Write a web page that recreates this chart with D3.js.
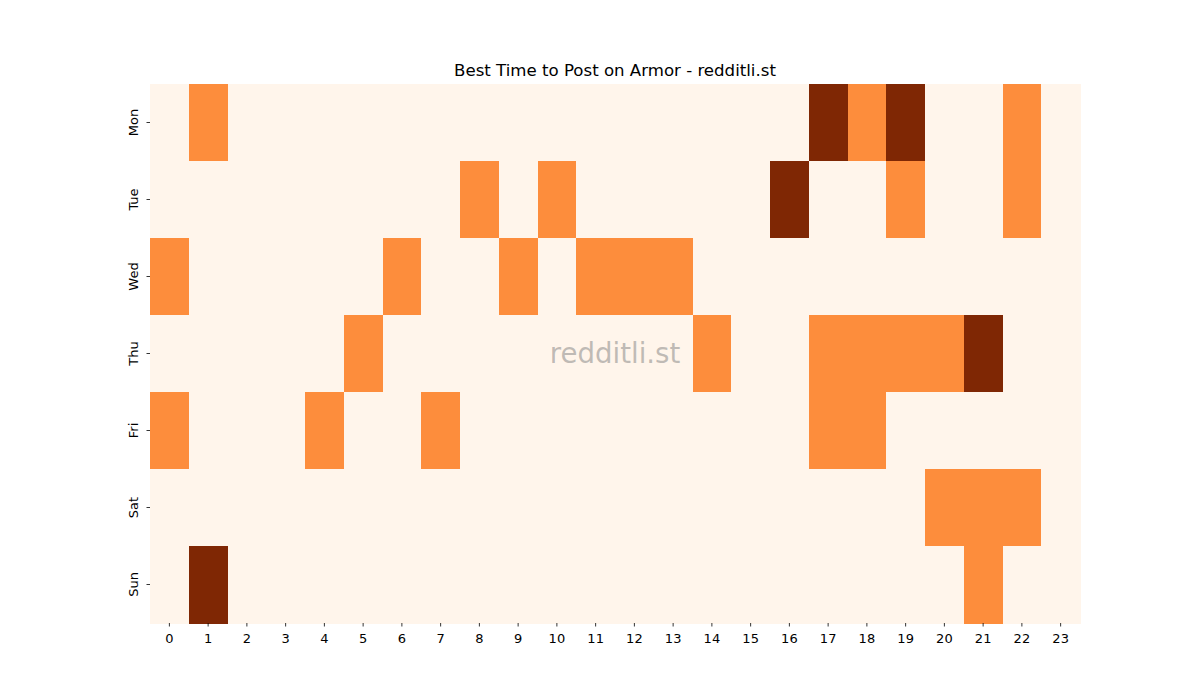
<!DOCTYPE html>
<html>
<head>
<meta charset="utf-8">
<script src="https://cdn.jsdelivr.net/npm/d3@7"></script>
<style>
body { margin: 0; background: #fff; }
text { font-family: "DejaVu Sans", sans-serif; }
</style>
</head>
<body>
<div id="chart"></div>
<script>
// rows of the heatmap, one value per hour (0 = none, 1 = some, 2 = most)
var days = ["Mon", "Tue", "Wed", "Thu", "Fri", "Sat", "Sun"];
var hours = d3.range(24).map(String);
var mon = [0,1,0,0,0,0,0,0,0,0,0,0,0,0,0,0,0,2,1,2,0,0,1,0];
var tue = [0,0,0,0,0,0,0,0,1,0,1,0,0,0,0,0,2,0,0,1,0,0,1,0];
var wed = [1,0,0,0,0,0,1,0,0,1,0,1,1,1,0,0,0,0,0,0,0,0,0,0];
var thu = [0,0,0,0,0,1,0,0,0,0,0,0,0,0,1,0,0,1,1,1,1,2,0,0];
var fri = [1,0,0,0,1,0,0,1,0,0,0,0,0,0,0,0,0,1,1,0,0,0,0,0];
var sat = [0,0,0,0,0,0,0,0,0,0,0,0,0,0,0,0,0,0,0,0,1,1,1,0];
var sun = [0,2,0,0,0,0,0,0,0,0,0,0,0,0,0,0,0,0,0,0,0,1,0,0];
var rows = [mon, tue, wed, thu, fri, sat, sun];

var W = 1200, H = 700;
var margin = {top: 84, right: 120, bottom: 77, left: 150};
var width = W - margin.left - margin.right;
var height = H - margin.top - margin.bottom;

var cells = [];
rows.forEach(function(r, i)
{
	r.forEach(function(v, j)
	{
		cells.push({day: days[i], hour: hours[j], value: v});
	});
});

var xS = d3.scaleBand().domain(hours).range([0, width]);
var yS = d3.scaleBand().domain(days).range([0, height]);
var color = d3.scaleOrdinal().domain([0, 1, 2]).range(["#fff5eb", "#fd8d3c", "#7f2704"]);

var svg = d3.select("#chart").append("svg")
	.attr("width", W)
	.attr("height", H);

var g = svg.append("g")
	.attr("transform", "translate(" + margin.left + "," + margin.top + ")");

g.selectAll(".cell")
	.data(cells)
	.enter().append("rect")
	.attr("class", "cell")
	.attr("x", function(d) { return xS(d.hour); })
	.attr("y", function(d) { return yS(d.day); })
	.attr("width", xS.bandwidth() + 0.5)
	.attr("height", yS.bandwidth() + 0.5)
	.attr("fill", function(d) { return color(d.value); })
	.attr("shape-rendering", "crispEdges");

var xAxis = g.append("g")
	.attr("transform", "translate(0," + height + ")")
	.call(d3.axisBottom(xS).tickSizeInner(3.5).tickSizeOuter(0).tickPadding(5));

var yAxis = g.append("g")
	.call(d3.axisLeft(yS).tickSizeInner(3.5).tickSizeOuter(0).tickPadding(5));

[xAxis, yAxis].forEach(function(a)
{
	a.select(".domain").remove();
	a.selectAll("line").attr("stroke", "#000").attr("stroke-width", 0.8);
	a.selectAll("text").attr("font-size", "13px").attr("fill", "#000")
		.style("font-family", "'DejaVu Sans', sans-serif");
});

xAxis.selectAll("text").attr("dy", "0.9em");

yAxis.selectAll("text")
	.attr("transform", "rotate(-90)")
	.attr("x", 0)
	.attr("y", -12)
	.attr("dy", 0)
	.style("text-anchor", "middle");

// title
svg.append("text")
	.attr("x", margin.left + width / 2)
	.attr("y", 76)
	.attr("text-anchor", "middle")
	.attr("font-size", "16.6px")
	.attr("fill", "#000")
	.text("Best Time to Post on Armor - redditli.st");

// watermark
g.append("text")
	.attr("x", width / 2)
	.attr("y", height / 2)
	.attr("dy", "0.35em")
	.attr("text-anchor", "middle")
	.attr("font-size", "27.6px")
	.attr("fill", "#808080")
	.attr("fill-opacity", 0.5)
	.text("redditli.st");
</script>
</body>
</html>
